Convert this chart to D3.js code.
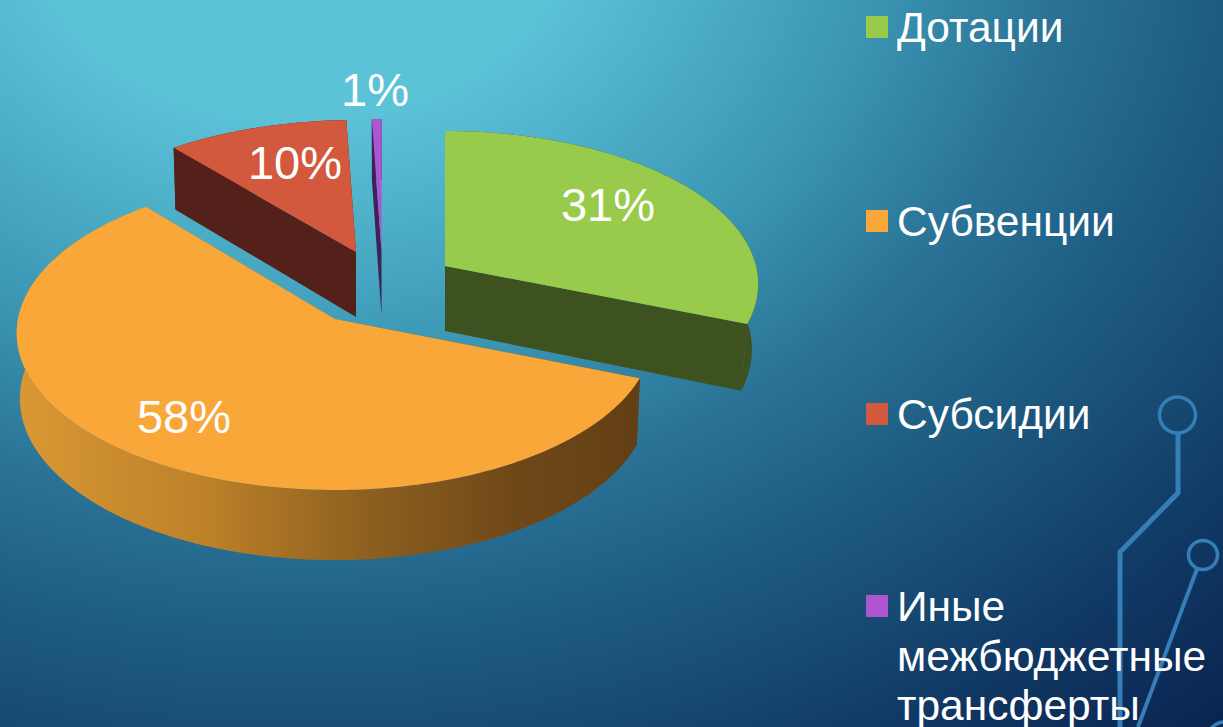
<!DOCTYPE html>
<html><head><meta charset="utf-8">
<script src="https://cdn.jsdelivr.net/npm/d3@7/dist/d3.min.js"></script>
<style>html,body{margin:0;padding:0;overflow:hidden;background:#0b2a55}svg{display:block}text{font-family:"Liberation Sans",Arial,sans-serif}</style>
</head><body><svg id="c" width="1223" height="727"></svg>
<script>
const categories = ["Дотации","Субвенции","Субсидии","Иные межбюджетные трансферты"];
const values = [31, 58, 10.45, 0.55];
const topColors = ["#98cb4c","#f9a738","#d2583e","#ae55cf"];
const sideColors = ["#3e5220","url(#orangeWall)","#54211a","#3f2159"];
const legendLines = [["Дотации"],["Субвенции"],["Субсидии"],["Иные","межбюджетные","трансферты"]];

const W=1223,H=727;
const svg=d3.select("#c");
const defs=svg.append("defs");
const bg=defs.append("radialGradient").attr("id","bg").attr("gradientUnits","userSpaceOnUse")
  .attr("cx",0).attr("cy",0).attr("r",1108).attr("gradientTransform","translate(300,-100) scale(1.25,1)");
[[0,"#5cc2d8"],[.2,"#5cc2d8"],[.41,"#3c98b5"],[.55,"#2a7397"],[.67,"#1e5c82"],[.78,"#164872"],[.85,"#113a66"],[1,"#0a2350"]]
  .forEach(s=>bg.append("stop").attr("offset",s[0]).attr("stop-color",s[1]));
const ow=defs.append("linearGradient").attr("id","orangeWall").attr("gradientUnits","userSpaceOnUse")
  .attr("x1",18).attr("y1",0).attr("x2",640).attr("y2",0);
[[0,"#d99833"],[.3,"#bd8129"],[.55,"#8f6120"],[.8,"#6f4818"],[1,"#623f14"]]
  .forEach(s=>ow.append("stop").attr("offset",s[0]).attr("stop-color",s[1]));

svg.append("rect").attr("width",W).attr("height",H).attr("fill","url(#bg)");

// circuit ornament
const orn=svg.append("g").attr("fill","none").attr("stroke","#357fb6");
orn.append("circle").attr("cx",1177.5).attr("cy",415).attr("r",18).attr("stroke-width",3.5);
orn.append("path").attr("d","M1178,433V493L1120,552V727").attr("stroke-width",5);
orn.append("circle").attr("cx",1203).attr("cy",555).attr("r",14.5).attr("stroke-width",3.5);
orn.append("path").attr("d","M1197,569L1138,727").attr("stroke-width",4);
orn.append("circle").attr("cx",1225).attr("cy",740).attr("r",18).attr("stroke-width",3.5);

// perspective ellipses: the large slice sits nearer the viewer than the others
const shape=[{A:311,B:150.9,P:.1176,k:.98},{A:317,B:155.6,P:.09,k:.99},{A:312,B:147.5,P:.1176,k:.99},{A:312,B:147.5,P:.1176,k:.99}];
const depth=65;
function proj(a,s){const u=Math.sin(a),v=-Math.cos(a),w=1-s.P*v;return [s.A*u/w,s.B*v/w];}
const apex=[[445,266],[335,319],[356,252],[381.5,251]];
const line=d3.line();
const arcs=d3.pie().sort(null).value(d=>d)(values);
const order=[3,2,0,1];
const g=svg.append("g");
order.forEach(i=>{
  const d=arcs[i],[cx,cy]=apex[i],sh=shape[i];
  const lower=([x,y])=>[x*sh.k,y*1.03+depth];
  const n=Math.max(2,Math.ceil((d.endAngle-d.startAngle)*60));
  const pts=d3.range(n+1).map(k=>proj(d.startAngle+(d.endAngle-d.startAngle)*k/n,sh));
  const tr=p=>[p[0]+cx,p[1]+cy];
  const top=pts.map(tr), bot=pts.map(p=>tr(lower(p)));
  const a0=[cx,cy], a1=tr(lower([0,0]));
  const s=g.append("g");
  s.append("path").attr("d",line([a0,top[0],bot[0],a1])+"Z").attr("fill",sideColors[i]);
  s.append("path").attr("d",line([a0,top[n],bot[n],a1])+"Z").attr("fill",sideColors[i]);
  s.append("path").attr("d",line(top.concat(bot.slice().reverse()))+"Z").attr("fill",sideColors[i]);
  s.append("path").attr("d",line([a0].concat(top))+"Z").attr("fill",topColors[i]);
});

// value labels
const labelPos=[[608,205],[184,417],[295,163],[375,90]];
svg.append("g").selectAll("text").data(arcs).join("text")
  .attr("x",(d,i)=>labelPos[i][0]).attr("y",(d,i)=>labelPos[i][1])
  .attr("dy","0.35em").attr("text-anchor","middle").attr("fill","#fff").attr("font-size",47)
  .text(d=>Math.round(d.value)+"%");

// legend
const legendY=[27,221,414,606];
const lg=svg.append("g").selectAll("g").data(categories).join("g");
lg.append("rect").attr("x",866).attr("y",(d,i)=>legendY[i]-11).attr("width",22).attr("height",22)
  .attr("fill",(d,i)=>topColors[i]);
lg.append("text").attr("fill","#fff").attr("font-size",42.5)
  .selectAll("tspan").data((d,i)=>legendLines[i].map((t,k)=>({t,k,i}))).join("tspan")
  .attr("x",897).attr("y",d=>legendY[d.i]+15+d.k*49.5).text(d=>d.t);
</script></body></html>
